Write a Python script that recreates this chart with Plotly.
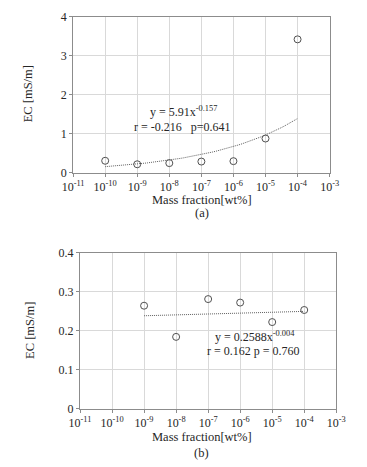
import plotly.graph_objects as go
import numpy as np

# ---- data ----
x_a = [1e-10, 1e-9, 1e-8, 1e-7, 1e-6, 1e-5, 1e-4]
y_a = [0.31, 0.22, 0.25, 0.29, 0.30, 0.88, 3.42]
fit_a_coef = 5.91
fit_a_exp = 0.157

x_b = [1e-9, 1e-8, 1e-7, 1e-6, 1e-5, 1e-4]
y_b = [0.264, 0.184, 0.281, 0.272, 0.222, 0.253]
fit_b_coef = 0.2588
fit_b_exp = 0.004

tick_exps = [-11, -10, -9, -8, -7, -6, -5, -4, -3]
tick_vals = [10.0 ** e for e in tick_exps]
tick_text = ["10<sup>%d</sup>" % e for e in tick_exps]

label_a_eq = "y = 5.91x<sup>-0.157</sup>"
label_a_stat = "r = -0.216   p=0.641"
label_b_eq = "y = 0.2588x<sup>-0.004</sup>"
label_b_stat = "r = 0.162 p = 0.760"

# fitted curves evaluated on a dense log grid
xf_a = np.logspace(-10, -4, 60)
yf_a = fit_a_coef * xf_a ** fit_a_exp
xf_b = np.logspace(-9, -4, 60)
yf_b = fit_b_coef * xf_b ** fit_b_exp

W, H = 367, 467
FONT = "Liberation Serif"
TXT = "#262626"

fig = go.Figure()
marker = dict(symbol="circle-open", size=7, color="#505050", line=dict(width=1, color="#505050"))
line_style = dict(color="#606060", width=1, dash="1px,1px")

fig.add_trace(go.Scatter(x=xf_a, y=yf_a, mode="lines", line=line_style, xaxis="x", yaxis="y", showlegend=False, hoverinfo="skip"))
fig.add_trace(go.Scatter(x=x_a, y=y_a, mode="markers", marker=marker, xaxis="x", yaxis="y", showlegend=False))
fig.add_trace(go.Scatter(x=xf_b, y=yf_b, mode="lines", line=line_style, xaxis="x2", yaxis="y2", showlegend=False, hoverinfo="skip"))
fig.add_trace(go.Scatter(x=x_b, y=y_b, mode="markers", marker=marker, xaxis="x2", yaxis="y2", showlegend=False))

def px_x(p):
    return p / W

def px_y(p):
    return 1 - p / H

xcommon = dict(type="log", range=[-11, -3], tickvals=tick_vals, ticktext=tick_text,
               showgrid=True, gridcolor="#d9d9d9", gridwidth=1,
               showline=True, linecolor="#8c8c8c", linewidth=1, mirror=True,
               ticks="outside", ticklen=3, tickcolor="#8c8c8c",
               tickfont=dict(family=FONT, size=12, color=TXT), zeroline=False)
ycommon = dict(showgrid=True, gridcolor="#d9d9d9", gridwidth=1,
               showline=True, linecolor="#8c8c8c", linewidth=1, mirror=True,
               ticks="outside", ticklen=3, tickcolor="#8c8c8c",
               tickfont=dict(family=FONT, size=12, color=TXT), zeroline=False)

fig.update_layout(
    width=W, height=H,
    margin=dict(l=0, r=0, t=0, b=0),
    paper_bgcolor="white", plot_bgcolor="white",
    font=dict(family=FONT, size=12, color=TXT),
    xaxis=dict(domain=[px_x(65.7), px_x(337)], anchor="y", **xcommon),
    yaxis=dict(domain=[px_y(171), px_y(10)], anchor="x", range=[0, 4], dtick=1, **ycommon),
    xaxis2=dict(domain=[px_x(73), px_x(344)], anchor="y2", **xcommon),
    yaxis2=dict(domain=[px_y(414), px_y(253.3)], anchor="x2", range=[0, 0.4], dtick=0.1, **ycommon),
)

def ann(text, x, y, size=12, angle=0):
    fig.add_annotation(text=text, x=px_x(x), y=px_y(y), xref="paper", yref="paper",
                       showarrow=False, xanchor="center", yanchor="middle",
                       textangle=angle, font=dict(family=FONT, size=size, color=TXT))

ann("EC [mS/m]", 18, 90, 12.5, -90)
ann("EC [mS/m]", 20, 333, 12.5, -90)
ann("Mass fraction[wt%]", 202, 199, 12.5)
ann("Mass fraction[wt%]", 201.5, 443, 12.5)
ann("(a)", 202, 212, 12.5)
ann("(b)", 201.5, 460, 12.5)
ann(label_a_eq, 182, 108, 12)
ann(label_a_stat, 181, 124, 12)
ann(label_b_eq, 258, 340, 12)
ann(label_b_stat, 257, 355, 12)

fig.write_html("out.html", config={"displayModeBar": False},
               post_script="document.documentElement.style.margin='0';document.body.style.margin='0';document.body.style.padding='0';document.body.style.overflow='hidden';document.documentElement.style.overflow='hidden';")
